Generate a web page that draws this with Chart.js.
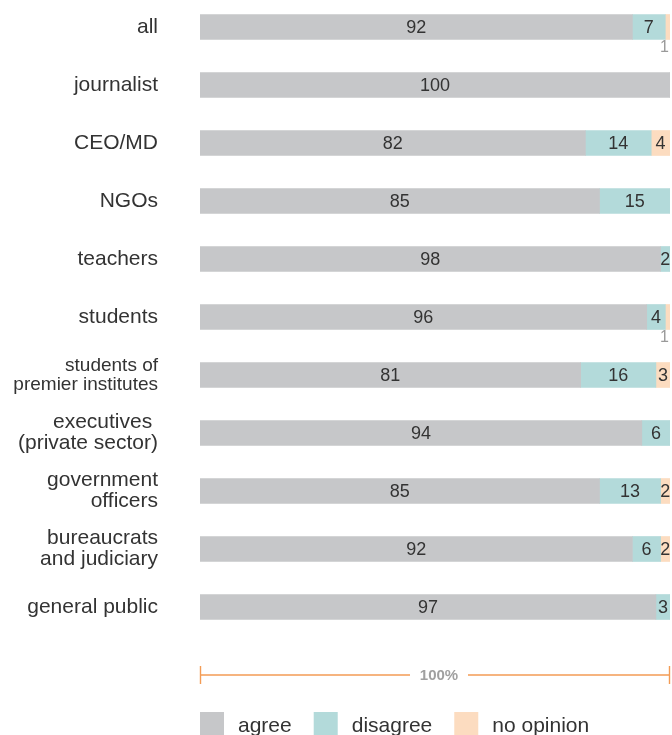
<!DOCTYPE html>
<html>
<head>
<meta charset="utf-8">
<script src="https://cdn.jsdelivr.net/npm/chart.js@4/dist/chart.umd.min.js"></script>
<style>
  html, body { margin: 0; padding: 0; background: #fff; overflow: hidden; }
  #wrap { position: absolute; left: 0; top: -2px; width: 672px; height: 737px; }
</style>
</head>
<body>
<div id="wrap"><canvas id="chart"></canvas></div>
<script>
// survey groups and shares (%)
const groups = [
    "all",
    "journalist",
    "CEO/MD",
    "NGOs",
    "teachers",
    "students",
    ["students of", "premier institutes"],
    ["executives ", "(private sector)"],
    ["government", "officers"],
    ["bureaucrats", "and judiciary"],
    "general public",
];
const agree     = [92, 100, 82, 85, 98, 96, 81, 94, 85, 92, 97];
const disagree  = [7, 0, 14, 15, 2, 4, 16, 6, 13, 6, 3];
const noOpinion = [1, 0, 4, 0, 0, 1, 3, 0, 2, 2, 0];
const seriesNames = ["agree", "disagree", "no opinion"];
const colors = ["#c6c7c9", "#b3dada", "#fcdcc0"];

const raw = [agree, disagree, noOpinion];
const totals = agree.map((v, i) => v + disagree[i] + noOpinion[i]);
const FONT = "'Liberation Sans', Arial, sans-serif";

// value labels: centred in the segment, tiny ones below the bar
const valueLabels = {
    id: "valueLabels",
    afterDatasetsDraw(chart) {
        const ctx = chart.ctx;
        ctx.save();
        chart.data.datasets.forEach((ds, di) => {
            const meta = chart.getDatasetMeta(di);
            meta.data.forEach((bar, i) => {
                const v = raw[di][i];
                if (!v) return;
                if (v === 1) {
                    ctx.font = "16px " + FONT;
                    ctx.fillStyle = "#9a9a9a";
                    ctx.textAlign = "right";
                    ctx.textBaseline = "middle";
                    ctx.fillText(String(v), chart.chartArea.right - 1, bar.y + 21);
                    return;
                }
                ctx.font = "18px " + FONT;
                ctx.fillStyle = "#333";
                ctx.textAlign = "center";
                ctx.textBaseline = "middle";
                ctx.fillText(String(v), (bar.x + bar.base) / 2, bar.y + 1);
            });
        });
        ctx.restore();
    },
};

// "100%" span marker and legend under the bars
const footer = {
    id: "footer",
    afterDraw(chart) {
        const ctx = chart.ctx;
        const xs = chart.scales.x;
        const x0 = xs.getPixelForValue(0);
        const x1 = xs.getPixelForValue(100);
        const y = 677;
        const mid = (x0 + x1) / 2;
        ctx.save();
        ctx.strokeStyle = "#f39c55";
        ctx.lineWidth = 1.4;
        ctx.beginPath();
        ctx.moveTo(x0, y); ctx.lineTo(mid - 25, y);
        ctx.moveTo(mid + 33, y); ctx.lineTo(x1, y);
        ctx.moveTo(x0 + 0.5, y - 9); ctx.lineTo(x0 + 0.5, y + 9);
        ctx.moveTo(x1 - 0.5, y - 9); ctx.lineTo(x1 - 0.5, y + 9);
        ctx.stroke();
        ctx.font = "bold 15px " + FONT;
        ctx.fillStyle = "#a0a0a0";
        ctx.textAlign = "center";
        ctx.textBaseline = "middle";
        ctx.fillText("100%", mid + 4, y + 1);

        ctx.font = "21px " + FONT;
        ctx.textAlign = "left";
        let lx = x0;
        seriesNames.forEach((name, i) => {
            ctx.fillStyle = colors[i];
            ctx.fillRect(lx, 714, 24, 24);
            ctx.fillStyle = "#333";
            ctx.fillText(name, lx + 38, 728);
            lx += 38 + ctx.measureText(name).width + 22;
        });
        ctx.restore();
    },
};

new Chart(document.getElementById("chart"), {
    type: "bar",
    data: {
        labels: groups,
        datasets: raw.map((vals, di) => ({
            label: seriesNames[di],
            data: vals.map((v, i) => (v / totals[i]) * 100),
            backgroundColor: colors[di],
            borderWidth: 0,
            barThickness: 25,
        })),
    },
    options: {
        indexAxis: "y",
        responsive: true,
        maintainAspectRatio: false,
        animation: false,
        layout: { padding: { left: 0, right: 2, top: 0, bottom: 99 } },
        plugins: {
            legend: { display: false },
            tooltip: { enabled: false },
        },
        scales: {
            x: {
                stacked: true,
                min: 0,
                max: 100,
                display: false,
            },
            y: {
                stacked: true,
                grid: { display: false, drawTicks: false },
                border: { display: false },
                afterFit: (scale) => {
                    scale.width = 200;
                    scale.paddingTop = 0;
                    scale.paddingBottom = 0;
                },
                ticks: {
                    padding: 42,
                    color: "#333",
                    font: (c) => ({
                        family: FONT,
                        size: c.index === 6 ? 19 : 21,
                        lineHeight: 1.0,
                    }),
                },
            },
        },
    },
    plugins: [valueLabels, footer],
});
</script>
</body>
</html>
